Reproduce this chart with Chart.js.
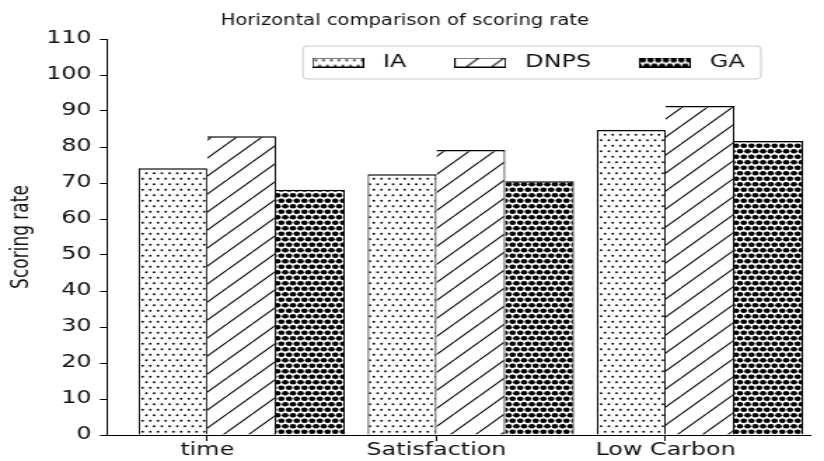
<!DOCTYPE html>
<html>
<head>
<meta charset="utf-8">
<title>Horizontal comparison of scoring rate</title>
<script src="https://cdn.jsdelivr.net/npm/chart.js@4.4.1/dist/chart.umd.min.js"></script>
<style>
  html, body { margin: 0; padding: 0; background: #fff; overflow: hidden; }
  /* the figure is laid out narrow and widened horizontally as a whole */
  #frame { width: 588px; height: 461px; transform: scaleX(1.40136); transform-origin: 0 0; }
  #frame canvas { display: block; }
</style>
</head>
<body>
<div id="frame"><canvas id="chart"></canvas></div>
<script>
// ---- data ----
const categories = ['time', 'Satisfaction', 'Low Carbon'];
const seriesNames = ['IA', 'DNPS', 'GA'];
const iaScores = [74.1, 72.4, 84.7];
const dnpsScores = [83.0, 79.2, 91.4];
const gaScores = [68.1, 70.5, 81.7];
const yMin = 0, yMax = 110, yStep = 10;

// share of each category slot taken by its three bars
const GROUP = 0.9;

// ---- hatch tiles ----
function makeTile(w, h, paint) {
  const c = document.createElement('canvas');
  c.width = w; c.height = h;
  const g = c.getContext('2d');
  g.fillStyle = '#fff';
  g.fillRect(0, 0, w, h);
  paint(g, w, h);
  return c;
}
// staggered lattice of filled dots, wrapped across tile edges
function lattice(g, w, h, r) {
  const pts = [[w / 4, h / 4], [3 * w / 4, h / 4], [0, 3 * h / 4], [w / 2, 3 * h / 4]];
  g.fillStyle = '#000';
  for (const [px, py] of pts) {
    for (const dx of [-w, 0, w]) {
      for (const dy of [-h, 0, h]) {
        g.beginPath();
        g.arc(px + dx, py + dy, r, 0, Math.PI * 2);
        g.fill();
      }
    }
  }
}
const dotTile = makeTile(11, 11, (g, w, h) => lattice(g, w, h, 0.95));
const denseTile = makeTile(11, 11, (g, w, h) => lattice(g, w, h, 2.35));
const slashTile = makeTile(18, 18, (g, w, h) => {
  g.strokeStyle = '#000';
  g.lineWidth = 1.1;
  g.beginPath();
  for (const o of [-w, 0, w]) { g.moveTo(o, h); g.lineTo(o + w, 0); }
  g.stroke();
});

const canvas = document.getElementById('chart');
const ctx = canvas.getContext('2d');
const tiles = [dotTile, slashTile, denseTile];
const fills = tiles.map(t => ctx.createPattern(t, 'repeat'));

// small swatches used as legend markers
const legendHandles = tiles.map(t => {
  const c = document.createElement('canvas');
  c.width = 37; c.height = 10;
  const g = c.getContext('2d');
  g.fillStyle = g.createPattern(t, 'repeat');
  g.fillRect(0, 0, c.width, c.height);
  g.strokeStyle = '#000';
  g.lineWidth = 1;
  g.strokeRect(0.5, 0.5, c.width - 1, c.height - 1);
  return c;
});

// outline pieces: neighbouring bars share a single edge
const edgeFirst = { top: 1.5, left: 1.1, right: 1.1, bottom: 0 };
const edgeNext = { top: 1.5, left: 0, right: 1.1, bottom: 0 };

function series(i, values, edges) {
  return {
    label: seriesNames[i],
    data: values.map((v, k) => ({ x: k, y: v })),
    backgroundColor: fills[i],
    borderColor: '#000',
    borderWidth: edges,
    borderSkipped: false,
    inflateAmount: 0,
    categoryPercentage: GROUP,
    barPercentage: 1
  };
}

// legend drawn inside the plot, inside a light rounded frame
const floatingLegend = {
  id: 'floatingLegend',
  beforeLayout(chart) {
    const lg = chart.legend;
    if (lg && !lg.__floating) {
      const fit = lg.fit;
      lg.fit = function () { fit.call(this); this.height = 0; };
      lg.__floating = true;
    }
  },
  afterLayout(chart, args, opts) {
    const lg = chart.legend;
    lg.left = opts.left;
    lg.right = chart.width;
    lg.width = lg.right - lg.left;
    lg.top = opts.top;
    lg.bottom = opts.top + 80;
  },
  beforeDraw(chart, args, opts) {
    const c = chart.ctx;
    const f = opts.frame;
    c.save();
    c.fillStyle = '#fff';
    c.fillRect(0, 0, chart.width, chart.height);
    c.beginPath();
    c.roundRect(f.left, f.top, f.right - f.left, f.bottom - f.top, f.radius);
    c.fillStyle = 'rgba(255,255,255,0.8)';
    c.fill();
    c.strokeStyle = '#cccccc';
    c.lineWidth = 1;
    c.stroke();
    c.restore();
  }
};

Chart.defaults.font.family = "'DejaVu Sans', sans-serif";
Chart.defaults.color = '#111';

new Chart(ctx, {
  type: 'bar',
  data: {
    datasets: [
      series(0, iaScores, edgeFirst),
      series(1, dnpsScores, edgeNext),
      series(2, gaScores, edgeNext)
    ]
  },
  plugins: [floatingLegend],
  options: {
    responsive: true,
    maintainAspectRatio: false,
    devicePixelRatio: 1,
    animation: false,
    events: [],
    layout: { padding: { left: 0, right: 10, top: 0, bottom: 0 } },
    scales: {
      x: {
        type: 'linear',
        bounds: 'data',
        offset: false,
        min: -0.5875,
        max: 2.48,
        afterBuildTicks(axis) {
          // one tick per category, at the left edge of its middle bar
          axis.ticks = categories.map((_, i) => ({ value: i - GROUP / 6 }));
        },
        ticks: {
          autoSkip: false,
          maxRotation: 0,
          padding: -1,
          font: { size: 17 },
          color: '#111',
          callback: (v, i) => categories[i]
        },
        grid: { display: true, offset: false, drawOnChartArea: false, tickLength: 6, tickColor: '#000', tickWidth: 1 },
        border: { display: true, color: '#000', width: 1, z: 1 },
        afterFit(axis) { axis.height = 26; }
      },
      y: {
        min: yMin,
        max: yMax,
        ticks: { stepSize: yStep, padding: 6, font: { size: 17 }, color: '#111' },
        grid: { display: true, drawOnChartArea: false, tickLength: 5, tickColor: '#000', tickWidth: 1 },
        border: { display: true, color: '#000', width: 1 },
        title: {
          display: true,
          text: 'Scoring rate',
          font: { size: 17 },
          color: '#111',
          padding: { top: 5.5, bottom: 0 }
        },
        afterFit(axis) { axis.width = 76.35; }
      }
    },
    plugins: {
      title: {
        display: true,
        text: 'Horizontal comparison of scoring rate',
        color: '#111',
        font: { family: "'DejaVu Sans Condensed', 'DejaVu Sans', sans-serif", size: 15.5, weight: 'normal' },
        padding: { top: 11.7, bottom: 8.7 }
      },
      legend: {
        display: true,
        position: 'top',
        align: 'start',
        labels: {
          usePointStyle: true,
          pointStyleWidth: 47.4,
          padding: 29,
          color: '#111',
          font: { size: 17 },
          generateLabels(chart) {
            const items = Chart.defaults.plugins.legend.labels.generateLabels(chart);
            items.forEach((it, i) => { it.pointStyle = legendHandles[i]; });
            return items;
          }
        }
      },
      tooltip: { enabled: false },
      floatingLegend: {
        left: 188.4,
        top: 25,
        frame: { left: 216.2, right: 543, top: 46, bottom: 79, radius: 3 }
      }
    }
  }
});
</script>
</body>
</html>
